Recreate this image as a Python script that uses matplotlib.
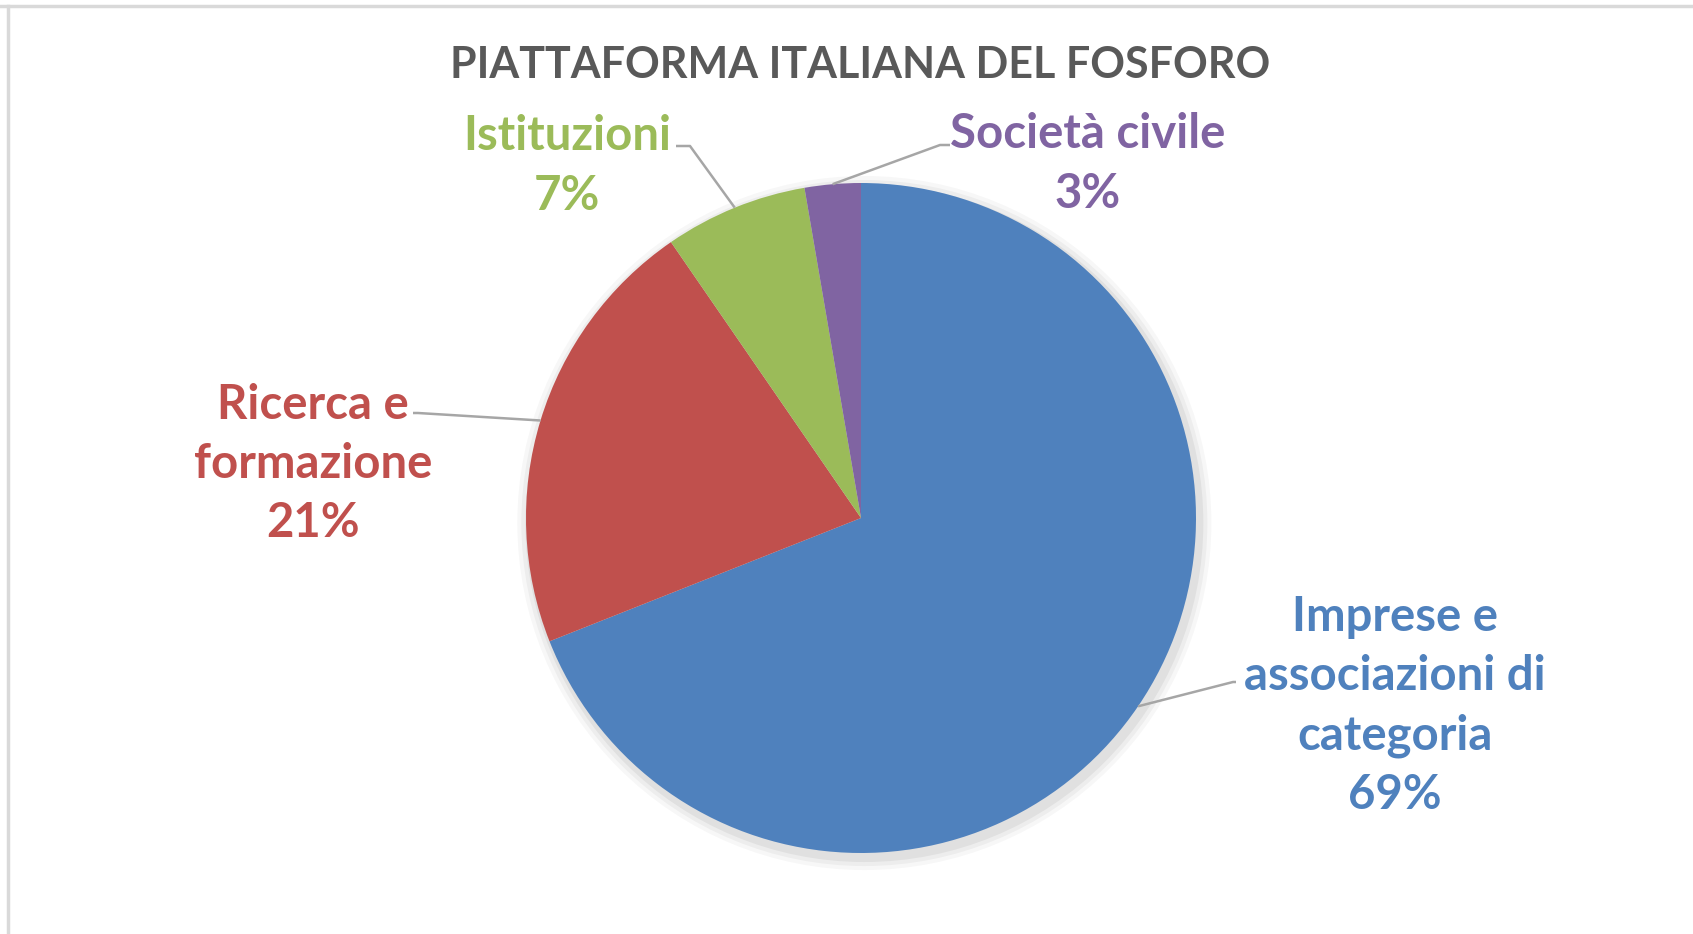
import numpy as np
import matplotlib.pyplot as plt
from matplotlib.lines import Line2D

# data
categories = ["Imprese e\nassociazioni di\ncategoria", "Ricerca e\nformazione",
              "Istituzioni", "Società civile"]
shares = [69.0, 21.4, 6.9, 2.7]
colors = ["#4F81BD", "#C0504D", "#9BBB59", "#8064A2"]
title = "PIATTAFORMA ITALIANA DEL FOSFORO"

W, H = 1693, 934
CX, CY, R = 861, 518, 335   # pie centre / radius in pixels


def px(x, y):
    """pixel coords (from top-left) -> data units of the pie"""
    return (x - CX) / R, (CY - y) / R


plt.rcParams["font.family"] = ["Lato", "DejaVu Sans"]

fig = plt.figure(figsize=(W / 100, H / 100), dpi=100)
ax = fig.add_axes([0, 0, 1, 1])

# faint frame on top / left
fig.add_artist(Line2D([0, 1], [1 - 6 / H, 1 - 6 / H], color="#D9D9D9", lw=2.5))
fig.add_artist(Line2D([8 / W, 8 / W], [0, 1 - 6 / H], color="#D9D9D9", lw=2.5))

# soft shadow
for i, a in enumerate([0.05, 0.04, 0.03]):
    ax.add_patch(plt.Circle((0.01, -0.015), 1 + 0.012 * (i + 1), color="black",
                            alpha=a, lw=0, zorder=0))

wedges, _ = ax.pie(shares, colors=colors, startangle=90, counterclock=False,
                   radius=1, wedgeprops=dict(linewidth=0), center=(0, 0))
for w in wedges:
    w.set_zorder(2)

ax.set_xlim(-CX / R, (W - CX) / R)
ax.set_ylim(-(H - CY) / R, CY / R)
ax.set_aspect("equal")
ax.axis("off")

# label positions (centre of text block, in pixels) and leader elbow points
label_pos = [(1395, 706), (313, 464), (567, 166), (1088, 164)]
elbows = [[(1236, 682), (1233, 682)], [(413, 413), (418, 413)],
          [(676, 146), (690, 146)], [(950, 145), (940, 145)]]

for w, cat, val, col, pos, elb in zip(wedges, categories, shares, colors,
                                      label_pos, elbows):
    mid = np.deg2rad((w.theta1 + w.theta2) / 2)
    rim = (np.cos(mid), np.sin(mid))
    pts = [px(*p) for p in elb] + [rim]
    ax.plot([p[0] for p in pts], [p[1] for p in pts], color="#A6A6A6",
            lw=1.8, zorder=3, solid_capstyle="butt")
    ax.text(*px(*pos), f"{cat}\n{round(val):.0f}%", color=col, fontsize=34,
            fontweight="bold", ha="center", va="center", linespacing=1.42)

ax.text(*px(797 * W / 1568, 65), title, color="#595959", fontsize=31,
        fontweight="bold", ha="center", va="center")

fig.savefig("out.png", dpi=100, facecolor="white")
